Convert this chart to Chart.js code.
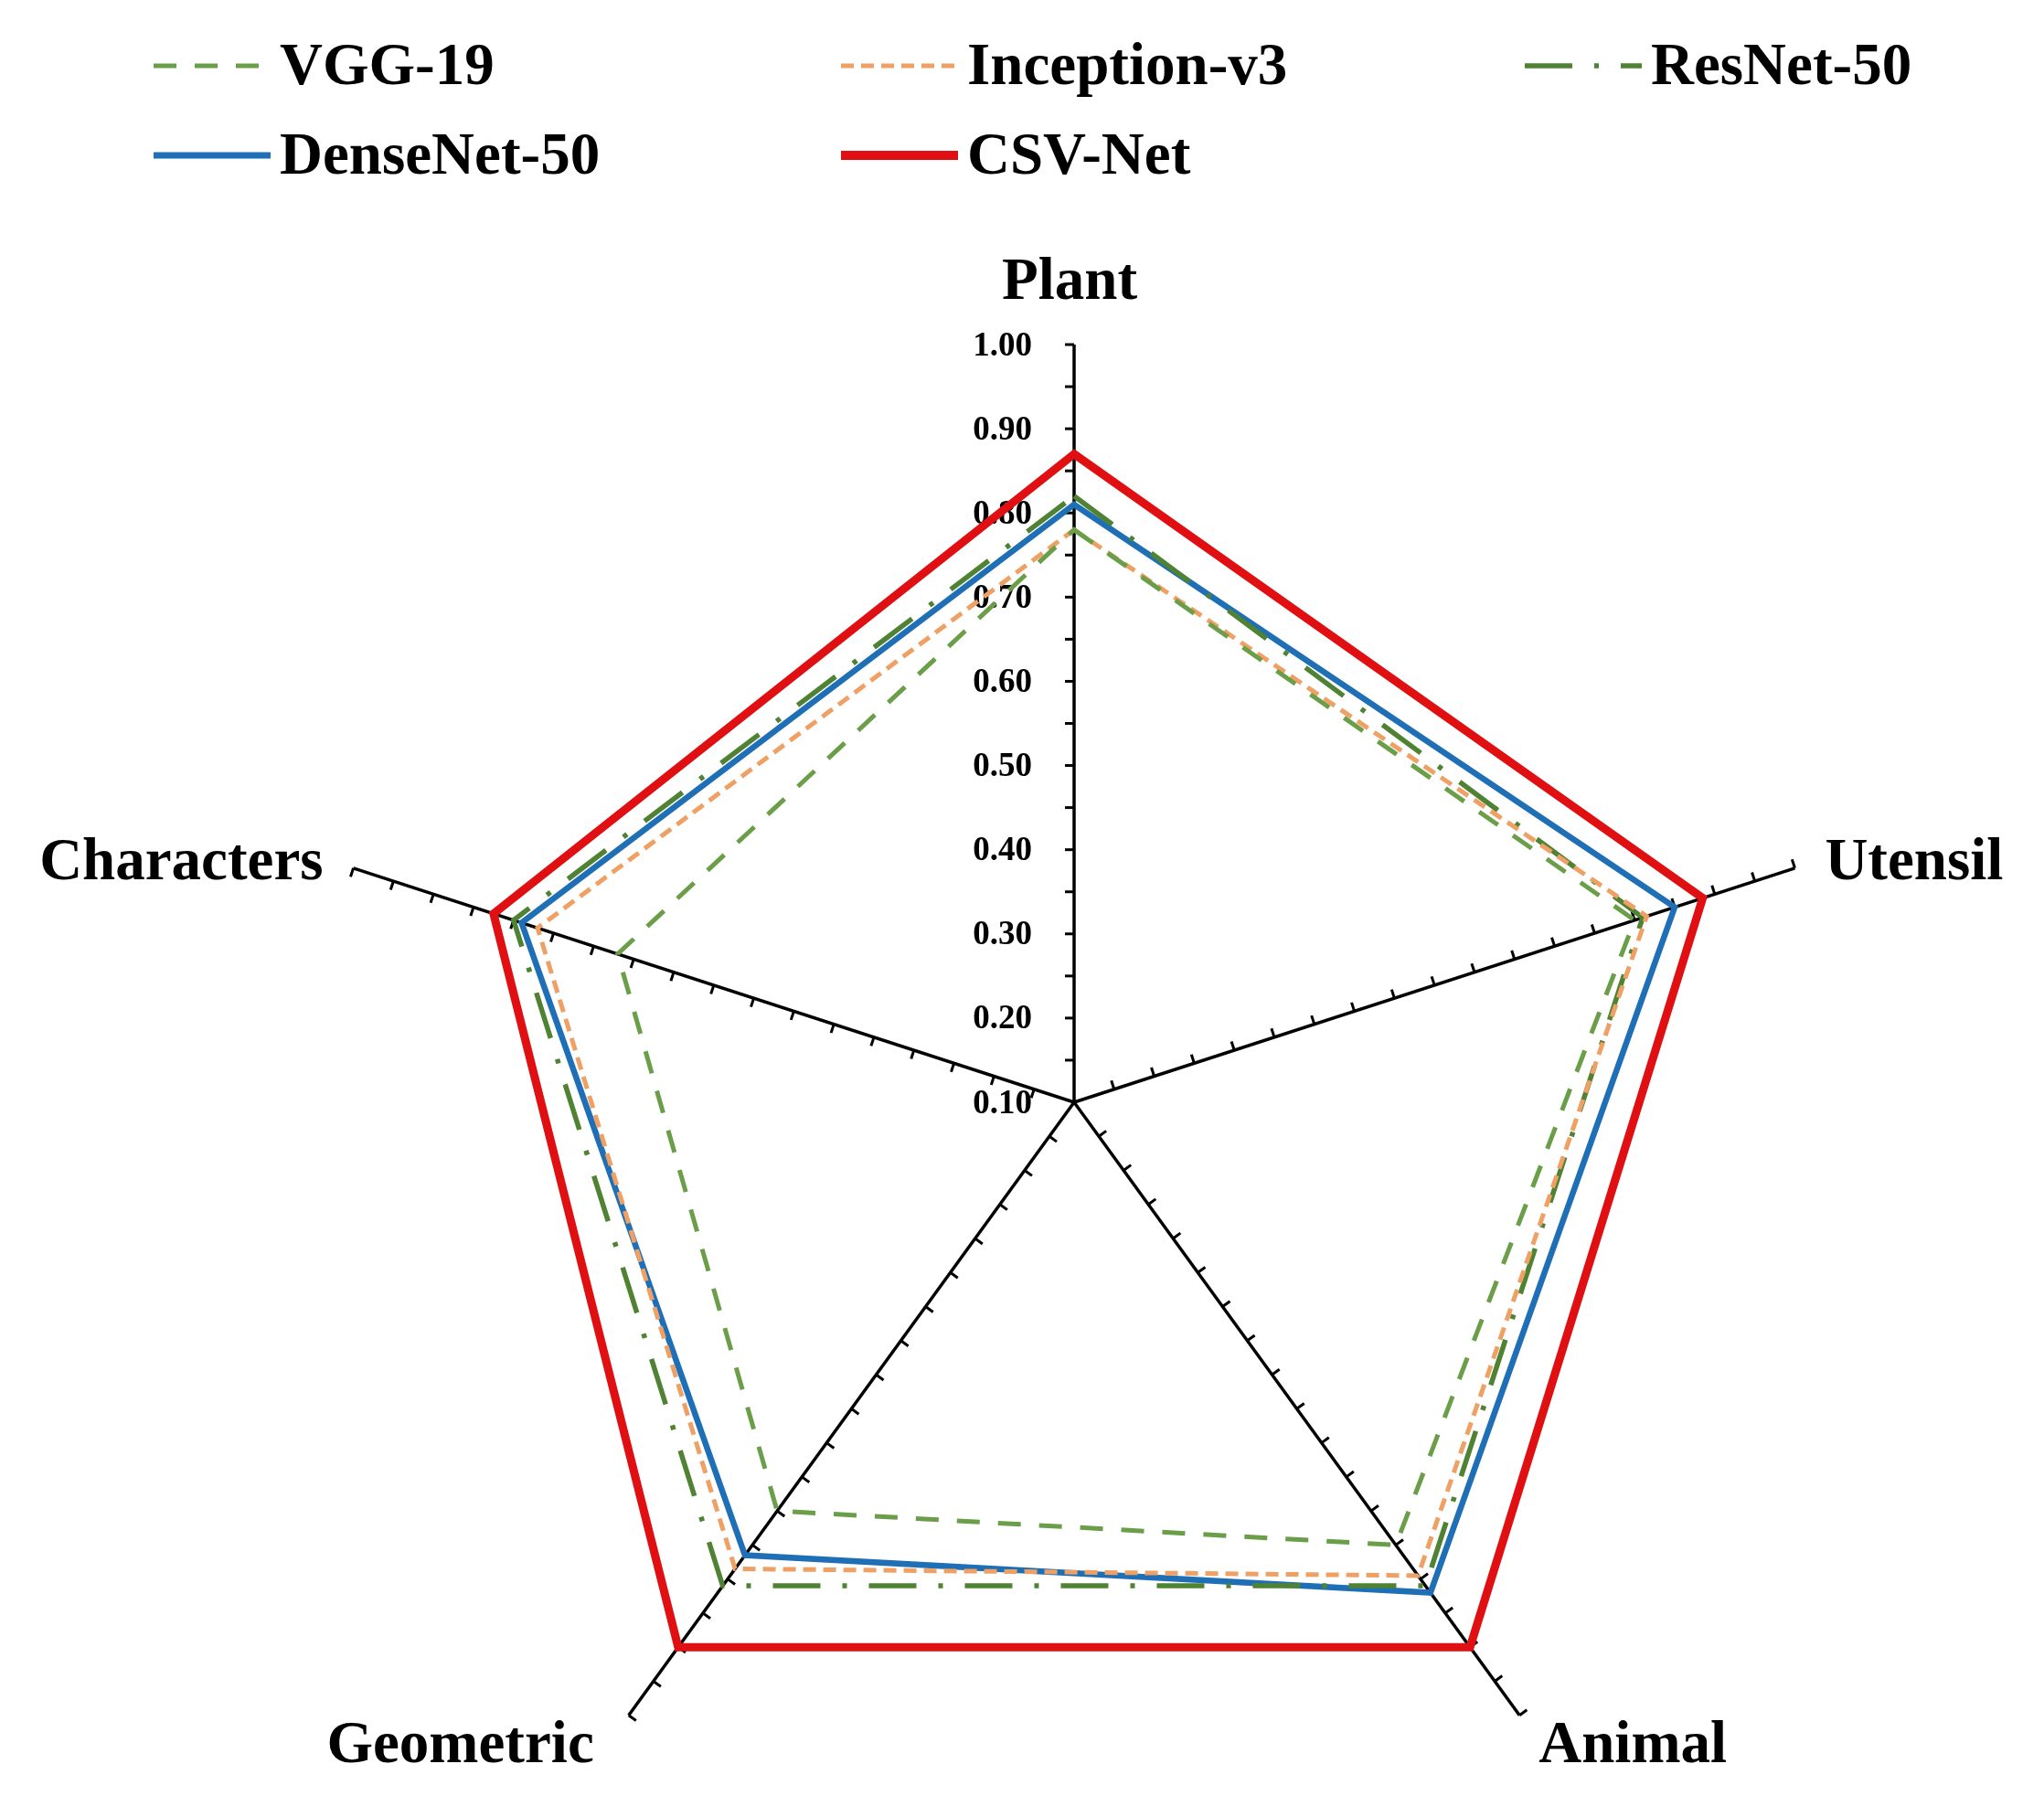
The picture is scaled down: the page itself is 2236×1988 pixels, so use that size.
<!DOCTYPE html>
<html>
<head>
<meta charset="utf-8">
<title>Radar chart</title>
<script src="https://cdn.jsdelivr.net/npm/chart.js@4.4.1/dist/chart.umd.min.js"></script>
<style>
  html, body { margin: 0; padding: 0; background: #fff; overflow: hidden; }
  canvas { display: block; }
</style>
</head>
<body>
<canvas id="radar" width="2236" height="2040"></canvas>
<script>
// categories and values
const categories = ['Plant', 'Utensil', 'Animal', 'Geometric', 'Characters'];
const vgg19       = [0.78, 0.80, 0.75, 0.70, 0.67];
const inceptionV3 = [0.78, 0.815, 0.795, 0.785, 0.77];
const resnet50    = [0.82, 0.81, 0.81, 0.81, 0.80];
const densenet50  = [0.81, 0.85, 0.82, 0.765, 0.79];
const csvNet      = [0.87, 0.885, 0.90, 0.90, 0.825];
const tickLabels  = ['0.10', '0.20', '0.30', '0.40', '0.50', '0.60', '0.70', '0.80', '0.90', '1.00'];

const serif = '"Liberation Serif", "Times New Roman", serif';

// hand-drawn bits: small ticks on every axis, tick labels, category names, legend grid
const decorPlugin = {
    id: 'decor',
    beforeDatasetsDraw(chart) {
        const ctx = chart.ctx;
        const r = chart.scales.r;
        ctx.save();
        ctx.strokeStyle = '#000';
        ctx.lineWidth = 3;
        for (let i = 0; i < categories.length; i++) {
            const a = r.getIndexAngle(i) - Math.PI / 2;
            const tx = Math.sin(a), ty = -Math.cos(a);
            for (let v = 0.15; v <= 1.0001; v += 0.05) {
                const p = r.getPointPosition(i, r.getDistanceFromCenterForValue(v));
                ctx.beginPath();
                ctx.moveTo(p.x, p.y);
                ctx.lineTo(p.x + tx * 10, p.y + ty * 10);
                ctx.stroke();
            }
        }
        // tick labels left of the Plant axis
        ctx.fillStyle = '#000';
        ctx.font = 'bold 37px ' + serif;
        ctx.textAlign = 'right';
        ctx.textBaseline = 'middle';
        tickLabels.forEach(t => {
            const p = r.getPointPosition(0, r.getDistanceFromCenterForValue(parseFloat(t)));
            ctx.fillText(t, p.x - 46, p.y + 2);
        });
        ctx.restore();
    },
    afterDraw(chart) {
        const ctx = chart.ctx;
        const r = chart.scales.r;
        const outer = r.getDistanceFromCenterForValue(r.max);
        ctx.save();
        ctx.fillStyle = '#000';
        ctx.font = 'bold 65px ' + serif;
        ctx.textBaseline = 'alphabetic';
        const place = [
            { align: 'center', dx: -5, dy: -50 },
            { align: 'left', dx: 33, dy: 12 },
            { align: 'left', dx: 21, dy: 51 },
            { align: 'right', dx: -38, dy: 51 },
            { align: 'right', dx: -33, dy: 12 }
        ];
        categories.forEach((c, i) => {
            const p = r.getPointPosition(i, outer);
            ctx.textAlign = place[i].align;
            ctx.fillText(c, p.x + place[i].dx, p.y + place[i].dy);
        });

        // legend laid out as a grid like the original
        const cols = [168, 920, 1668];
        const rows = [72, 170];
        ctx.textAlign = 'left';
        ctx.textBaseline = 'middle';
        chart.data.datasets.forEach((ds, i) => {
            const x = cols[i % 3];
            const y = rows[Math.floor(i / 3)];
            ctx.strokeStyle = ds.borderColor;
            ctx.lineWidth = ds.legendWidth;
            ctx.setLineDash(ds.borderDash || []);
            ctx.lineCap = 'butt';
            ctx.beginPath();
            ctx.moveTo(x, y);
            ctx.lineTo(x + 128, y);
            ctx.stroke();
            ctx.setLineDash([]);
            ctx.fillStyle = '#000';
            ctx.fillText(ds.label, x + 138, y + 3);
        });
        ctx.restore();
    }
};

const lineDefaults = { fill: false, pointRadius: 0, pointHoverRadius: 0, tension: 0, borderJoinStyle: 'miter' };

new Chart(document.getElementById('radar'), {
    type: 'radar',
    data: {
        labels: categories,
        datasets: [
            { ...lineDefaults, label: 'VGG-19', data: vgg19, borderColor: '#6A9E48', borderWidth: 5, legendWidth: 5, borderDash: [25, 20] },
            { ...lineDefaults, label: 'Inception-v3', data: inceptionV3, borderColor: '#EFA064', borderWidth: 5, legendWidth: 5, borderDash: [14, 8] },
            { ...lineDefaults, label: 'ResNet-50', data: resnet50, borderColor: '#4F8233', borderWidth: 5.5, legendWidth: 5.5, borderDash: [52, 24, 5, 24] },
            { ...lineDefaults, label: 'DenseNet-50', data: densenet50, borderColor: '#1F6FB6', borderWidth: 6.5, legendWidth: 7 },
            { ...lineDefaults, label: 'CSV-Net', data: csvNet, borderColor: '#E00F12', borderWidth: 9, legendWidth: 10 }
        ]
    },
    options: {
        responsive: false,
        animation: false,
        layout: { padding: { left: 346, right: 232, top: 377, bottom: 5 } },
        plugins: { legend: { display: false }, tooltip: { enabled: false } },
        scales: {
            r: {
                min: 0.1,
                max: 1.0,
                ticks: { display: false, stepSize: 0.1 },
                grid: { display: false },
                angleLines: { display: true, color: '#000', lineWidth: 3.5 },
                pointLabels: { display: false }
            }
        }
    },
    plugins: [decorPlugin]
});
</script>
</body>
</html>
